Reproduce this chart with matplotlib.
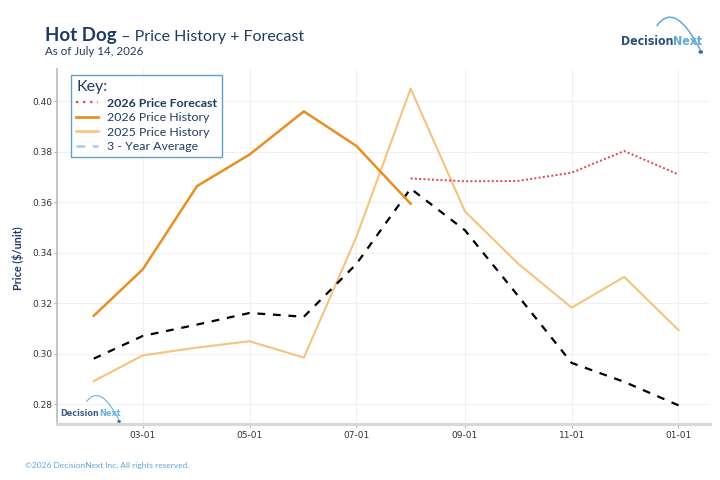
import matplotlib
matplotlib.use("Agg")
import matplotlib.pyplot as plt
import matplotlib.dates as mdates
from matplotlib import font_manager as fm
from matplotlib.lines import Line2D
from matplotlib.patches import PathPatch, Circle
from matplotlib.path import Path
import pandas as pd

# ---------------- data ----------------
months = pd.date_range("2026-02-01", "2027-01-01", freq="MS")
hist_2026 = [0.315, 0.3334, 0.3664, 0.3789, 0.396, 0.3823, 0.3594]
hist_2025 = [0.2891, 0.2993, 0.3024, 0.3049, 0.2984, 0.3462, 0.405,
             0.3564, 0.3359, 0.3182, 0.3304, 0.3093]
avg_3yr = [0.298, 0.307, 0.3115, 0.3161, 0.3146, 0.3355, 0.3654,
           0.3489, 0.3232, 0.2963, 0.2888, 0.2795]
forecast_2026 = [0.3694, 0.3683, 0.3684, 0.3717, 0.3803, 0.371]
forecast_start = 6  # index of 2026-08-01
y_ticks = [0.28, 0.30, 0.32, 0.34, 0.36, 0.38, 0.40]
legend_labels = ["2026 Price Forecast", "2026 Price History",
                 "2025 Price History", "3 - Year Average"]

title_main = "Hot Dog"
title_rest = " \u2013 Price History + Forecast"
subtitle = "As of July 14, 2026"
footer = "\u00a92026 DecisionNext Inc. All rights reserved."
y_label = "Price ($/unit)"

NAVY = "#1f3b63"
LIGHTBLUE = "#5fa8dc"
W, H = 720, 480

plt.rcParams['font.family'] = ['Lato', 'DejaVu Sans']

fig = plt.figure(figsize=(7.2, 4.8), dpi=100)
ax = fig.add_axes([57 / W, 1 - 424 / H, 653 / W, 355 / H])

ax.plot(months[:len(hist_2025)], hist_2025, color="#f6c37e", lw=1.5, zorder=2)
ax.plot(months[:len(avg_3yr)], avg_3yr, color="black", lw=1.6,
        dashes=(3.5, 3.5), zorder=3)
ax.plot(months[:len(hist_2026)], hist_2026, color="#e98e22", lw=1.8, zorder=4)
ax.plot(months[forecast_start:forecast_start + len(forecast_2026)], forecast_2026,
        color="#e2414f", lw=1.4, ls=(0, (1, 1.2)), zorder=5)

ax.set_xlim(pd.Timestamp("2026-01-11"), pd.Timestamp("2027-01-19"))
ax.set_ylim(0.2721, 0.4128)
ax.set_yticks(y_ticks)
ax.yaxis.set_major_formatter(matplotlib.ticker.FormatStrFormatter('%.2f'))
ax.xaxis.set_major_locator(mdates.MonthLocator(bymonth=[1, 3, 5, 7, 9, 11]))
ax.xaxis.set_major_formatter(mdates.DateFormatter('%m-%d'))
for lab in ax.get_xticklabels() + ax.get_yticklabels():
    lab.set_fontfamily('DejaVu Sans')
    lab.set_fontsize(6.5)
    lab.set_color('#333333')
ax.tick_params(axis='y', length=2.5, width=0.6, color='#aaaaaa', pad=1)
ax.tick_params(axis='x', length=3, width=0.6, color='#aaaaaa', pad=2)

ax.grid(True, color="#f0f0f0", lw=0.8)
ax.set_axisbelow(True)
for s in ['top', 'right']:
    ax.spines[s].set_visible(False)
ax.spines['left'].set_color('#bbbbbb')
ax.spines['left'].set_linewidth(1.2)
ax.spines['bottom'].set_color('#d8d8d8')
ax.spines['bottom'].set_linewidth(2.2)

fig.text(18 / W, 1 - 258 / H, y_label, rotation=90, ha='center', va='center',
         color=NAVY, fontsize=7.8, fontweight='bold')

# legend
handles = [
    Line2D([], [], color="#e2414f", lw=1.6, ls=(0, (1, 2.2))),
    Line2D([], [], color="#e98e22", lw=2.0),
    Line2D([], [], color="#f6c37e", lw=1.8),
    Line2D([], [], color="#a9cbe9", lw=1.8, dashes=(3.5, 3)),
]
leg = ax.legend(handles, legend_labels, loc='upper left', bbox_to_anchor=(0.0214, 0.983),
                title="Key:", alignment='left', fontsize=8.9, title_fontsize=11.5,
                frameon=True, fancybox=False, borderpad=0.42, labelspacing=0.28,
                handlelength=1.75, handletextpad=0.75, borderaxespad=0.0)
leg.get_frame().set_edgecolor('#3f86b6')
leg.get_frame().set_linewidth(1.0)
leg.get_title().set_color(NAVY)
for i, t in enumerate(leg.get_texts()):
    t.set_color(NAVY)
    if i == 0:
        t.set_fontweight('bold')

# titles
t1 = fig.text(45 / W, 1 - 41 / H, title_main, fontsize=13.5, fontweight='bold', color=NAVY)
fig.canvas.draw()
bb = t1.get_window_extent()
fig.text(bb.x1 / W, 1 - 41 / H, title_rest, fontsize=11.5, color=NAVY)
fig.text(45 / W, 1 - 46 / H, subtitle, fontsize=8.3, color=NAVY, va='top')
fig.text(25 / W, 1 - 468 / H, footer, fontsize=6.0, color=LIGHTBLUE)

# ---------- logos ----------
def _is_bold(f):
    w = f.weight
    if isinstance(w, str):
        return w in ('bold', 'semibold', 'demibold', 'heavy', 'extra bold', 'black', 'demi')
    return w >= 600


fonts = fm.fontManager.ttflist
cands = [f for f in fonts
         if ('Narrow' in f.name or 'Condensed' in f.name
             or f.stretch in ('condensed', 'semi-condensed', 'extra-condensed'))
         and _is_bold(f) and 'Mono' not in f.name and 'Serif' not in f.name]
pref = ['Liberation Sans Narrow', 'DejaVu Sans', 'Noto Sans', 'Open Sans', 'Roboto']
cands.sort(key=lambda f: (next((i for i, p in enumerate(pref) if f.name.startswith(p)), 99),
                          f.fname))
if cands:
    LOGO_FP = fm.FontProperties(fname=cands[0].fname)
else:
    LOGO_FP = fm.FontProperties(family='Roboto', weight='bold')


def logo(x0, x1, y_base, alpha=1.0):
    """x0,x1: text span in px; y_base: baseline px from top."""
    fp = LOGO_FP.copy()
    fp.set_size(10.0)
    ta = fig.text(x0 / W, 1 - y_base / H, "Decision", fontproperties=fp, color="#2c4f7c",
                  alpha=alpha)
    tb = fig.text(0, 1 - y_base / H, "Next", fontproperties=fp.copy(), color=LIGHTBLUE,
                  alpha=alpha)
    fig.canvas.draw()
    r = fig.canvas.get_renderer()
    wa = ta.get_window_extent(r).width
    wb = tb.get_window_extent(r).width
    size = 10.0 * (x1 - x0) / (wa + wb)
    ta.set_fontsize(size)
    tb.set_fontsize(size)
    fig.canvas.draw()
    wa = ta.get_window_extent(r).width
    tb.set_x((x0 + wa) / W)
    w = x1 - x0
    s = w / 81.0
    p0 = (x0 + 0.44 * w, y_base - 19 * s)
    c = (x0 + 0.67 * w, y_base - 45 * s)
    p2 = (x0 + 0.985 * w, y_base + 6 * s)
    pts = [(px / W, 1 - py / H) for px, py in (p0, c, p2)]
    path = Path(pts, [Path.MOVETO, Path.CURVE3, Path.CURVE3])
    fig.add_artist(PathPatch(path, fc='none', ec=LIGHTBLUE, lw=1.1 * s,
                             transform=fig.transFigure, alpha=alpha))
    fig.add_artist(Circle((p2[0] / W, 1 - (p2[1] + 1) / H), radius=1.6 * s / W,
                          color="#2c6fb0", transform=fig.transFigure, alpha=alpha))


logo(621, 702, 45)
logo(60, 120, 416, alpha=0.9)

fig.savefig("out.png", dpi=100)
